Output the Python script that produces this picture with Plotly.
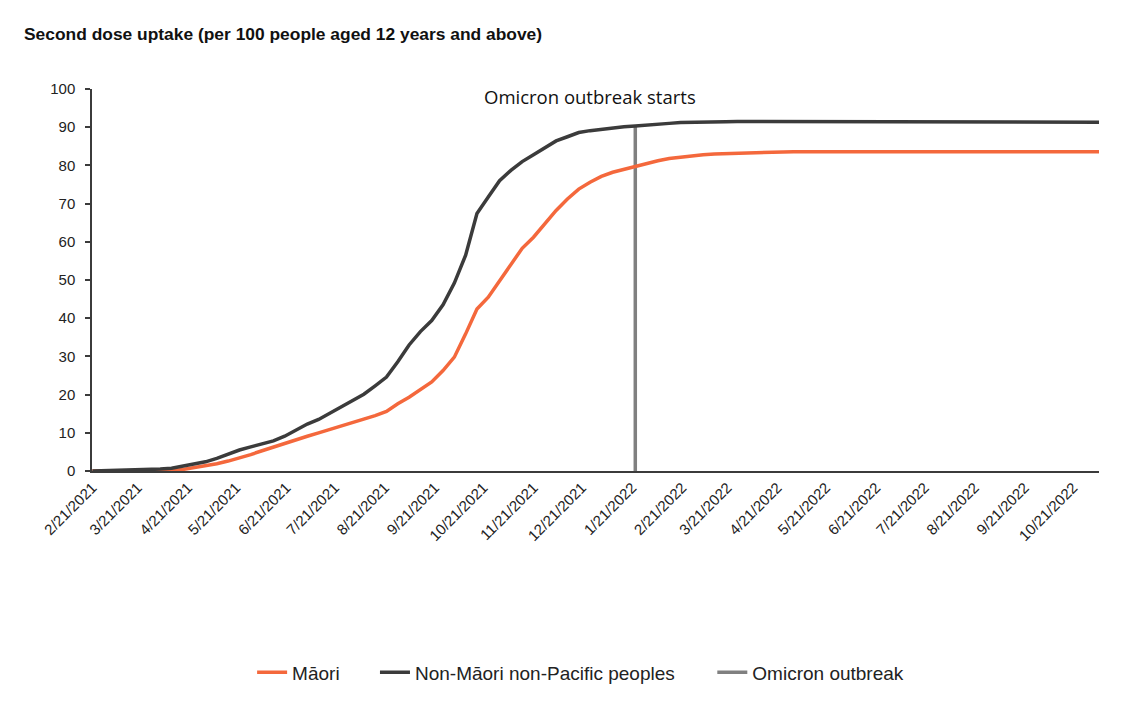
import plotly.graph_objects as go
import pandas as pd

# Weekly dates (Sundays) from 21 Feb 2021
start_date = "2021-02-21"
n_weeks = 90
dates = pd.date_range(start_date, periods=n_weeks, freq="7D")

# Second dose uptake per 100 people aged 12+
maori = [
    0, 0, 0, 0, 0, 0, 0, 0.1, 0.4, 0.9,
    1.3, 1.9, 2.6, 3.4, 4.3, 5.3, 6.3, 7.2, 8.2, 9.1,
    10.0, 10.9, 11.8, 12.5, 13.4, 14.5, 15.6, 17.6, 19.3, 21.2,
    23.3, 26.3, 29.8, 35.9, 42.4, 45.5, 49.9, 54.3, 58.3, 61.2,
    64.6, 68.2, 71.2, 73.8, 75.6, 77.1, 78.2, 79.0, 79.8, 80.6,
    81.2, 81.8, 82.2, 82.5, 82.8, 83.0, 83.1, 83.3, 83.4, 83.5,
    83.6, 83.6, 83.6, 83.6, 83.6, 83.6, 83.6, 83.6, 83.6, 83.6,
    83.6, 83.6, 83.6, 83.6, 83.6, 83.6, 83.6, 83.6, 83.6, 83.6,
    83.6, 83.6, 83.6, 83.6, 83.6, 83.6, 83.6, 83.6, 83.6, 83.6,
]
non_maori = [
    0, 0.05, 0.1, 0.15, 0.2, 0.3, 0.5, 0.7, 1.2, 1.8,
    2.4, 3.3, 4.4, 5.5, 6.3, 7.0, 7.9, 9.1, 10.8, 12.3,
    13.5, 15.1, 16.7, 18.4, 20.1, 22.3, 24.6, 28.6, 33.0, 36.5,
    39.4, 43.5, 49.2, 56.5, 67.4, 71.7, 76.0, 78.7, 81.0, 82.8,
    84.6, 86.4, 87.5, 88.6, 89.1, 89.5, 89.9, 90.1, 90.3, 90.6,
    90.9, 91.0, 91.2, 91.2, 91.3, 91.4, 91.4, 91.5, 91.5, 91.5,
    91.5, 91.5, 91.5, 91.5, 91.5, 91.5, 91.5, 91.5, 91.5, 91.5,
    91.5, 91.5, 91.5, 91.3, 91.3, 91.3, 91.3, 91.3, 91.3, 91.3,
    91.3, 91.3, 91.3, 91.3, 91.3, 91.3, 91.3, 91.3, 91.3, 91.3,
]

omicron_date = "2022-01-23"
omicron_y = [0, 90.3]

tick_dates = pd.date_range("2021-02-01", "2022-10-01", freq="MS") + pd.Timedelta(days=20)
tick_labels = [f"{d.month}/{d.day}/{d.year}" for d in tick_dates]

ORANGE = "#F4683C"
DARK = "#3B3B3B"
GREY = "#808080"

fig = go.Figure()
fig.add_trace(go.Scatter(x=[omicron_date, omicron_date], y=omicron_y, mode="lines",
                         name="Omicron outbreak", line=dict(color=GREY, width=3.5),
                         legend="legend3"))
fig.add_trace(go.Scatter(x=dates, y=maori, mode="lines", name="Māori",
                         line=dict(color=ORANGE, width=3.5), legend="legend"))
fig.add_trace(go.Scatter(x=dates, y=non_maori, mode="lines",
                         name="Non-Māori non-Pacific peoples",
                         line=dict(color=DARK, width=3.5), legend="legend2"))

leg_common = dict(orientation="h", xanchor="left", y=-0.527, yanchor="middle",
                  font=dict(size=19, color="#222222"), itemwidth=30,
                  bgcolor="rgba(0,0,0,0)")

fig.update_layout(
    width=1126, height=696,
    margin=dict(l=84, r=35, t=81, b=222),
    paper_bgcolor="white", plot_bgcolor="white",
    font=dict(family="Liberation Sans, Arial, sans-serif", color="#222222"),
    showlegend=True,
    legend=dict(x=0.159, **leg_common),
    legend2=dict(x=0.281, **leg_common),
    legend3=dict(x=0.616, **leg_common),
    annotations=[
        dict(text="<b>Second dose uptake (per 100 people aged 12 years and above)</b>",
             xref="paper", yref="paper", x=-0.07, y=1.145, xanchor="left", yanchor="middle",
             showarrow=False, font=dict(size=17.4, color="#111111")),
        dict(text="Omicron outbreak starts", xref="x", yref="y",
             x="2021-12-26", y=98.0, xanchor="center", yanchor="middle", showarrow=False,
             font=dict(size=18.5, family="Open Sans, Noto Sans, sans-serif", color="#111111")),
    ],
)

fig.update_xaxes(
    type="date", range=["2021-02-20 18:00", "2022-11-06"],
    tickvals=tick_dates, ticktext=tick_labels, tickangle=-45,
    tickfont=dict(size=15, color="#222222"),
    showgrid=False, zeroline=False, showline=True, linecolor=DARK, linewidth=2,
    ticks="", automargin=False,
)
fig.update_yaxes(
    range=[0, 100], tick0=0, dtick=10,
    tickfont=dict(size=15, color="#222222"),
    showgrid=False, zeroline=False, showline=True, linecolor=DARK, linewidth=1.5,
    ticks="outside", ticklen=5, tickcolor=DARK, tickwidth=1.5, automargin=False,
    ticklabelstandoff=7,
)

fig.write_html("out.html")
